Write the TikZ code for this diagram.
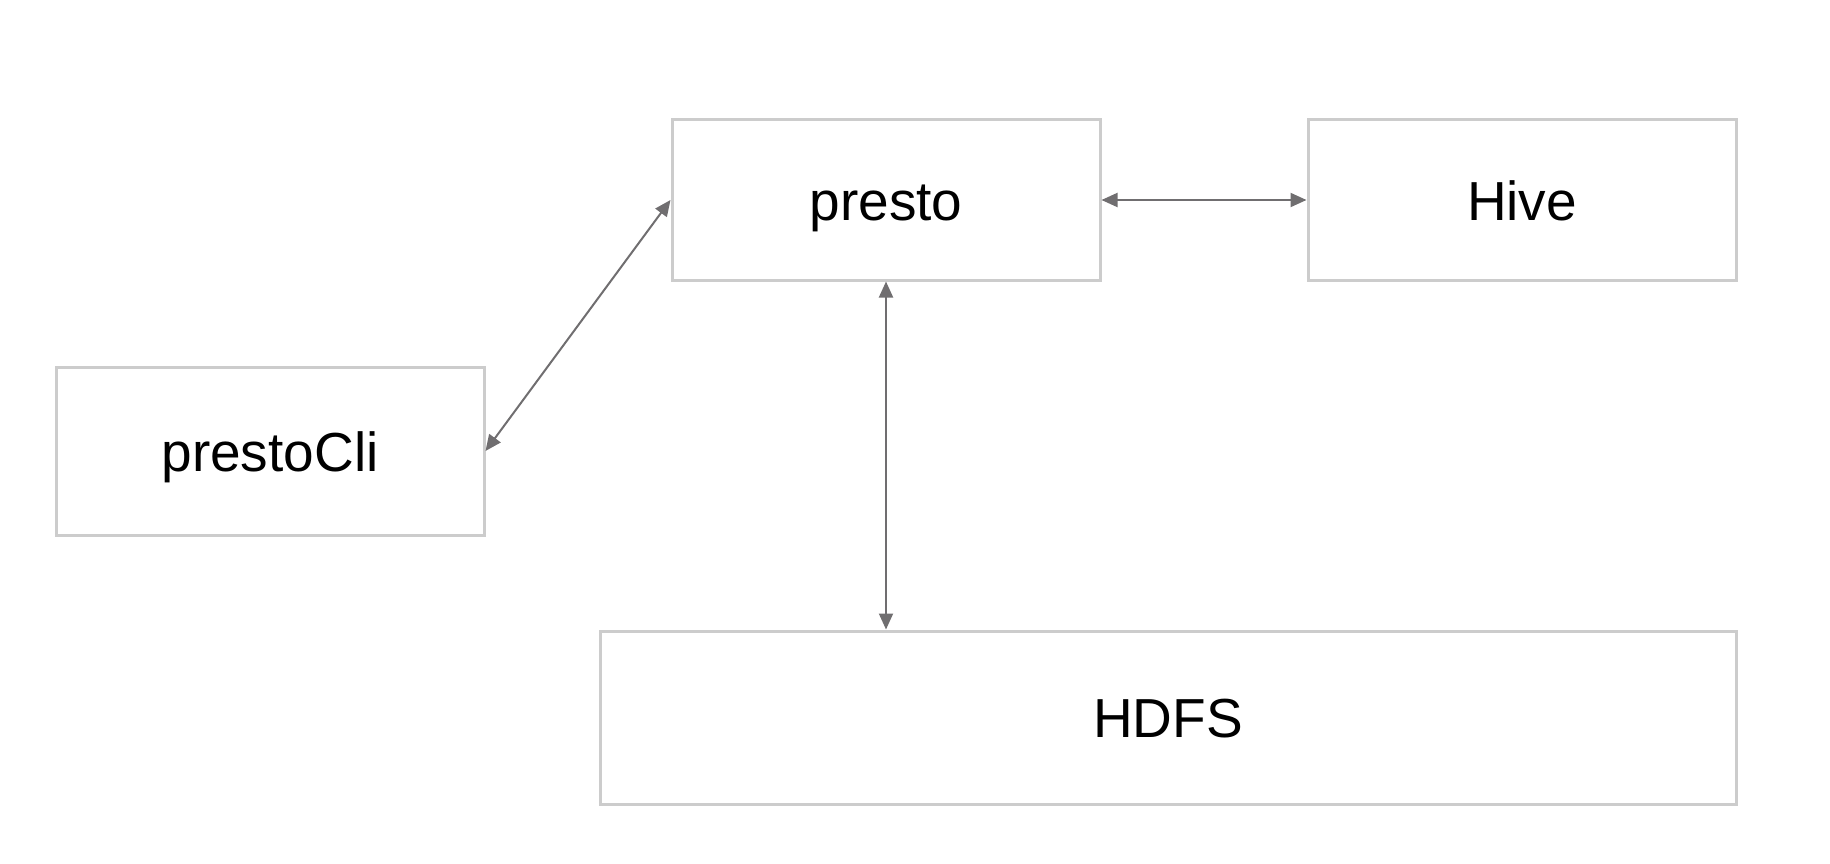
\documentclass[tikz,border=0pt]{standalone}
\usepackage{fontspec}
\setmainfont{Liberation Sans}
\usetikzlibrary{arrows.meta}
\definecolor{boxline}{RGB}{204,204,204}
\definecolor{arrowc}{RGB}{112,110,112}
\begin{document}
\begin{tikzpicture}[x=1pt,y=-1pt,
  blk/.style={draw=boxline,line width=3pt,rectangle,inner sep=0pt,
    text height=40pt,text depth=0pt,
    font=\fontsize{55}{66}\selectfont},
  link/.style={draw=arrowc,line width=2pt,{Triangle[length=16pt,width=14pt]}-{Triangle[length=16pt,width=14pt]}}]
\useasboundingbox (0,0) rectangle (1830,864);
\node[blk,minimum width=428pt,minimum height=160pt] (presto) at (886,200) {presto};
\node[blk,minimum width=428pt,minimum height=160pt] (hive) at (1522,200) {Hive};
\node[blk,minimum width=428pt,minimum height=168pt] (cli) at (270,451) {prestoCli};
\node[blk,minimum width=1136pt,minimum height=173pt] (hdfs) at (1168,717.5) {HDFS};
\draw[link] (presto.east) -- (hive.west);
\draw[link] (presto.west) -- (cli.east);
\draw[link] (presto.south) -- (presto.south |- hdfs.north);
\end{tikzpicture}
\end{document}
